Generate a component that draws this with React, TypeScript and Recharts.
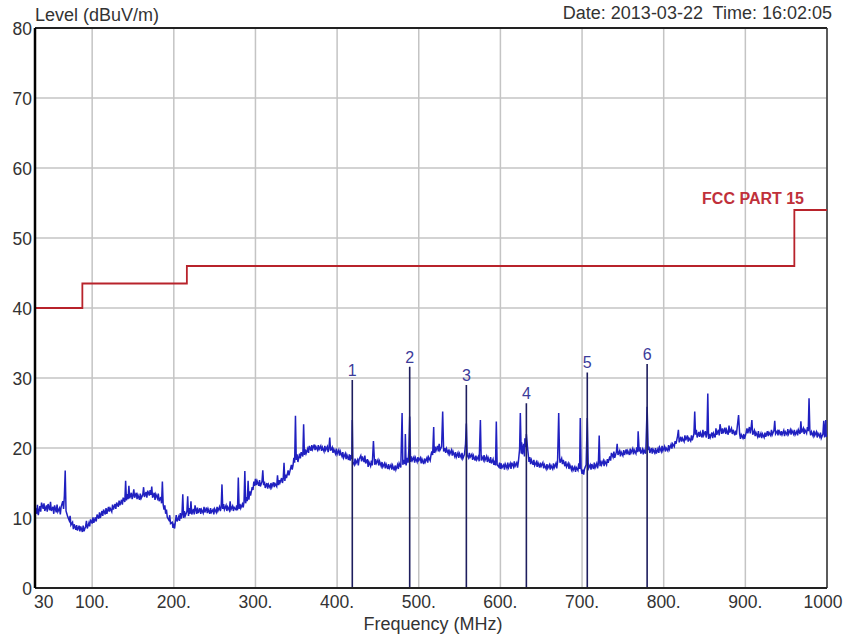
import { ComposedChart, Line, Scatter, XAxis, YAxis, CartesianGrid, ReferenceLine } from "recharts";

const FONT = "'Liberation Sans', Arial, sans-serif";

const X_TICKS = [30, 100, 200, 300, 400, 500, 600, 700, 800, 900, 1000];
const X_TICK_LABELS = ["30", "100.", "200.", "300.", "400.", "500.", "600.", "700.", "800.", "900.", "1000"];
const Y_TICKS = [0, 10, 20, 30, 40, 50, 60, 70, 80];

// FCC part 15 limit (step after each frequency)
const LIMIT_FREQ = [30, 88, 216, 960, 1000];
const LIMIT_LEVEL = [40, 43.5, 46, 54, 54];

// peak markers
const MARKER_NAMES = ["1", "2", "3", "4", "5", "6"];
const MARKER_FREQ = [418.6, 488.9, 558.3, 631.8, 706.4, 779.7];
const MARKER_LEVEL = [29.7, 31.6, 29.0, 26.4, 30.8, 32.0];

// measured trace [MHz, dBuV/m]
const TRACE_30_300: [number, number][] = [
  [30, 10.0], [31, 11.4], [32, 10.6], [33, 11.9], [34, 10.4], [36, 11.7], [37, 10.9], [38, 12.2],
  [40, 11.3], [41, 12.1], [42, 11.0], [44, 11.8], [45, 10.9], [46, 12.0], [48, 11.1], [49, 12.3],
  [50, 11.0], [52, 11.6], [53, 10.6], [54, 11.8], [56, 10.8], [57, 11.9], [58, 10.9], [60, 11.4],
  [61, 10.5], [62, 11.6], [64, 12.4], [65, 11.3], [66, 13.2], [67, 16.8], [68, 11.0], [69, 10.6],
  [70, 10.2], [72, 9.6], [73, 10.3], [74, 9.0], [76, 9.4], [77, 8.4], [78, 9.1], [80, 8.3],
  [81, 9.0], [82, 8.2], [84, 8.9], [85, 8.1], [86, 8.8], [88, 8.0], [89, 8.9], [90, 8.1],
  [92, 8.8], [93, 9.6], [94, 8.5], [96, 9.3], [97, 8.8], [98, 9.8], [100, 9.2], [101, 10.1],
  [102, 9.3], [104, 10.1], [105, 9.5], [106, 10.5], [108, 9.9], [109, 10.8], [110, 10.0], [112, 11.0],
  [113, 10.3], [114, 11.2], [116, 10.5], [117, 11.4], [118, 10.6], [120, 11.6], [121, 10.9], [122, 11.4],
  [124, 10.9], [125, 11.9], [126, 11.2], [128, 12.0], [129, 11.3], [130, 12.2], [132, 11.6], [133, 12.5],
  [134, 11.8], [136, 12.6], [137, 11.9], [138, 12.9], [140, 12.3], [141, 15.3], [142, 12.5], [143, 13.4],
  [144, 12.7], [145, 14.6], [146, 12.8], [148, 13.6], [149, 12.7], [150, 13.2], [151, 14.1], [152, 12.9],
  [154, 13.6], [155, 12.7], [156, 13.3], [158, 12.6], [159, 13.5], [160, 12.8], [162, 13.3], [163, 14.4],
  [164, 13.0], [166, 13.7], [167, 12.9], [168, 13.9], [170, 13.2], [171, 14.0], [172, 13.3], [173, 14.5],
  [174, 12.9], [176, 13.6], [177, 12.6], [178, 13.4], [180, 12.8], [181, 13.5], [182, 12.4], [184, 13.0],
  [185, 12.1], [186, 15.2], [187, 11.9], [188, 11.2], [189, 11.8], [190, 10.6], [191, 11.2], [192, 10.1],
  [194, 9.7], [195, 10.4], [196, 9.2], [198, 9.4], [199, 8.6], [200, 9.0], [201, 8.5], [202, 9.6],
  [203, 10.4], [204, 9.5], [206, 10.2], [207, 9.6], [208, 10.7], [209, 9.9], [210, 10.5], [211, 13.4],
  [212, 10.0], [213, 11.0], [214, 10.3], [216, 10.9], [217, 13.1], [218, 10.3], [219, 11.4], [220, 10.6],
  [221, 12.4], [222, 10.5], [224, 11.3], [225, 10.5], [226, 11.8], [228, 10.6], [229, 11.5], [230, 10.7],
  [232, 11.4], [233, 10.6], [234, 11.2], [236, 10.7], [237, 11.6], [238, 10.8], [240, 11.5], [241, 10.7],
  [242, 11.3], [244, 10.6], [245, 11.4], [246, 10.8], [248, 11.2], [249, 10.5], [250, 11.3], [252, 10.8],
  [253, 11.6], [254, 11.0], [256, 11.6], [257, 11.0], [258, 11.5], [259, 14.8], [260, 11.3], [261, 12.0],
  [262, 11.2], [264, 11.8], [265, 11.0], [266, 11.6], [268, 11.1], [269, 12.4], [270, 11.2], [272, 11.7],
  [273, 11.0], [274, 11.5], [276, 11.2], [277, 11.8], [278, 11.1], [279, 15.8], [280, 11.3], [281, 12.0],
  [282, 11.4], [284, 12.0], [285, 11.5], [286, 12.3], [287, 16.7], [288, 12.1], [289, 13.0], [290, 12.4],
  [291, 15.3], [292, 12.6], [293, 13.8], [294, 13.2], [296, 14.4], [297, 14.0], [298, 15.2], [299, 14.6],
];

const TRACE_300_600: [number, number][] = [
  [300, 15.6], [301, 14.7], [302, 15.3], [304, 14.6], [305, 15.4], [306, 14.5], [308, 15.2], [309, 16.8],
  [310, 14.7], [311, 15.2], [312, 14.3], [314, 15.0], [315, 14.2], [316, 14.8], [318, 14.3], [319, 15.0],
  [320, 14.4], [322, 15.1], [323, 14.4], [324, 14.9], [326, 14.5], [327, 16.1], [328, 14.7], [329, 15.4],
  [330, 15.0], [332, 15.7], [333, 15.0], [334, 15.6], [335, 17.9], [336, 15.3], [337, 16.2], [338, 15.7],
  [340, 16.8], [341, 16.1], [342, 16.6], [344, 17.6], [345, 16.9], [346, 17.5], [347, 18.6], [348, 17.9],
  [349, 24.6], [350, 18.3], [351, 19.1], [352, 18.0], [354, 19.2], [355, 18.5], [356, 19.4], [358, 18.8],
  [359, 23.4], [360, 19.0], [361, 19.8], [362, 19.2], [364, 19.9], [365, 19.3], [366, 20.3], [368, 19.6],
  [369, 20.4], [370, 19.8], [372, 20.5], [373, 19.7], [374, 20.2], [376, 19.7], [377, 20.4], [378, 19.8],
  [380, 20.3], [381, 19.6], [382, 20.1], [384, 19.5], [385, 20.3], [386, 19.7], [388, 20.2], [389, 19.4],
  [390, 20.0], [391, 21.5], [392, 19.6], [394, 20.1], [395, 19.3], [396, 19.8], [398, 19.2], [399, 19.9],
  [400, 19.1], [402, 19.7], [403, 18.9], [404, 19.5], [406, 18.8], [407, 19.4], [408, 18.6], [410, 19.2],
  [411, 18.4], [412, 19.0], [414, 18.3], [415, 19.1], [416, 18.2], [417, 19.0], [418, 18.4], [418.6, 24.0],
  [419.3, 18.0], [421, 17.6], [422, 18.5], [423, 17.8], [425, 18.3], [426, 17.5], [427, 18.4], [429, 18.9],
  [430, 18.1], [431, 18.8], [433, 18.0], [434, 18.9], [435, 17.8], [437, 18.4], [438, 17.3], [439, 18.0],
  [441, 17.4], [442, 18.2], [443, 17.5], [444.5, 21.0], [446, 17.6], [447, 18.4], [448, 17.8], [450, 18.3],
  [451, 17.5], [452, 18.1], [454, 17.4], [455, 18.0], [456, 17.3], [458, 17.8], [459, 17.1], [460, 17.7],
  [462, 17.0], [463, 17.7], [464, 17.1], [466, 17.6], [467, 16.9], [468, 17.5], [470, 16.8], [471, 17.5],
  [472, 16.9], [474, 17.6], [475, 17.0], [476, 17.8], [478, 17.2], [479.6, 25.0], [480.5, 17.6], [482, 18.3],
  [483, 17.7], [483.6, 22.0], [484.5, 17.5], [486, 18.6], [487, 17.9], [487.8, 19.6], [488.9, 24.5], [490, 18.0],
  [491, 18.8], [492, 18.2], [494, 18.7], [495, 17.9], [496, 18.6], [498, 18.0], [499, 18.7], [500, 18.2],
  [502, 18.6], [503, 17.8], [504, 18.4], [506, 17.7], [507, 18.5], [508, 18.0], [510, 18.6], [511, 17.9],
  [512, 18.7], [514, 18.2], [515, 19.0], [516, 19.5], [517, 19.0], [518.3, 23.0], [519, 19.3], [520, 20.2],
  [521, 19.6], [523, 20.3], [524, 19.5], [525, 20.6], [526, 19.7], [528, 20.2], [529.3, 25.2], [530.5, 19.5],
  [532, 20.0], [533, 19.3], [534, 19.9], [536, 19.2], [537, 19.8], [538, 19.1], [540, 19.7], [541, 18.9],
  [542, 19.5], [544, 18.8], [545, 19.4], [546, 18.7], [548, 19.3], [549, 18.6], [550, 19.2], [552, 18.6],
  [553, 19.3], [554, 18.5], [556, 19.1], [557.3, 20.6], [558.3, 23.5], [559.3, 19.0], [561, 18.6], [562, 19.3],
  [563, 18.7], [565, 19.1], [566, 18.3], [567, 18.9], [569, 18.2], [570, 18.9], [571, 18.3], [573, 18.8],
  [574, 18.1], [575.5, 24.0], [576.5, 18.2], [577, 18.9], [579, 18.3], [580, 19.0], [581, 18.2], [583, 18.8],
  [584, 18.0], [585, 18.6], [587, 17.9], [588, 18.7], [589, 17.8], [591, 18.4], [592, 17.6], [593, 18.2],
  [594, 17.5], [595, 23.8], [596, 17.6], [598, 17.3], [599, 17.9],
];

const TRACE_600_1000: [number, number][] = [
  [600, 17.0], [601, 17.8], [602, 17.2], [604, 17.6], [605, 16.9], [606, 17.7], [608, 17.1], [609, 17.9],
  [610, 17.2], [612, 17.8], [613, 17.0], [614, 17.9], [616, 17.3], [617, 18.1], [618, 17.4], [620, 17.9],
  [621, 17.2], [622, 18.0], [623.5, 19.8], [624.4, 25.0], [625.5, 19.2], [626, 20.8], [627, 19.1], [628.5, 20.6],
  [629.5, 18.8], [630, 21.4], [631, 20.1], [631.8, 22.0], [633, 20.3], [634, 19.2], [635, 18.0], [636, 18.7],
  [637, 17.7], [638, 18.3], [640, 17.6], [641, 18.3], [642, 17.5], [644, 18.0], [645, 17.3], [646, 17.9],
  [648, 17.2], [649, 17.9], [650, 17.4], [652, 17.9], [653, 17.1], [654, 17.6], [656, 17.0], [657, 17.7],
  [658, 17.1], [660, 17.6], [661, 16.9], [662, 17.5], [664, 17.0], [665, 17.8], [666, 17.2], [668, 17.8],
  [669, 17.1], [670, 18.0], [671.4, 25.0], [672.5, 18.6], [673, 17.9], [675, 18.5], [676, 17.7], [677, 18.3],
  [679, 17.4], [680, 18.1], [681, 17.3], [683, 17.8], [684, 17.0], [685, 17.6], [687, 16.9], [688, 17.5],
  [689, 16.8], [691, 17.3], [692, 16.6], [693, 17.2], [695, 16.8], [696, 17.8], [697, 17.0], [697.8, 24.3],
  [698.8, 17.1], [700, 16.3], [701, 16.9], [702, 16.2], [703, 17.0], [705, 17.6], [706.4, 24.3], [707.5, 17.9],
  [708, 17.1], [710, 17.6], [711, 16.9], [712, 17.7], [714, 17.0], [715, 17.9], [716, 17.2], [718, 17.8],
  [719, 17.1], [720, 17.8], [721, 21.8], [722, 17.4], [723, 18.2], [724, 17.6], [726, 18.2], [727, 17.4],
  [728, 18.1], [730, 17.6], [731, 18.4], [732, 17.9], [734, 18.8], [735, 18.2], [736, 19.3], [738, 18.7],
  [739, 19.5], [740, 18.6], [742, 19.4], [743, 20.6], [744, 19.0], [746, 19.6], [747, 18.8], [748, 19.4],
  [750, 18.9], [751, 19.7], [752, 19.0], [754, 19.8], [755, 19.1], [756, 19.6], [758, 19.0], [759, 19.9],
  [760, 19.3], [762, 19.9], [763, 19.1], [764, 19.7], [766, 19.2], [767, 20.1], [768, 19.4], [768.7, 22.4],
  [770, 19.5], [771, 20.1], [772, 19.2], [774, 19.8], [775, 19.1], [776, 19.7], [778, 19.2], [779.7, 25.9],
  [781, 19.7], [782, 20.2], [783, 19.3], [785, 20.0], [786, 19.2], [787, 19.8], [789, 19.3], [790, 20.0],
  [791, 19.2], [793, 19.9], [794, 19.3], [795, 20.1], [797, 19.5], [798, 20.3], [799, 19.6], [801, 20.2],
  [802, 19.5], [803, 20.0], [805, 19.6], [806, 20.4], [807, 19.8], [809, 20.5], [810, 19.9], [811, 20.6],
  [813, 20.2], [814, 21.0], [815, 20.6], [817, 21.7], [818, 22.6], [819, 20.8], [821, 21.6], [822, 20.9],
  [823, 21.4], [825, 20.9], [826, 21.8], [827, 21.1], [829, 21.8], [830, 20.9], [831, 21.4], [833, 21.0],
  [834, 21.8], [835, 21.1], [837, 22.0], [838, 25.2], [839, 21.9], [840, 22.6], [841, 21.5], [843, 22.3],
  [844, 21.6], [845, 22.2], [847, 21.5], [848, 22.6], [849, 21.8], [851, 22.4], [852, 21.5], [853, 22.0],
  [854, 27.8], [855, 21.3], [856, 22.0], [857, 21.5], [859, 22.2], [860, 21.4], [861, 22.1], [863, 21.5],
  [864, 22.8], [865, 21.9], [867, 22.6], [868, 21.8], [869, 23.4], [871, 22.0], [872, 22.8], [873, 22.1],
  [875, 22.9], [876, 22.0], [877, 22.6], [879, 21.9], [880, 23.2], [881, 22.2], [883, 22.8], [884, 22.0],
  [885, 22.6], [887, 21.8], [888, 22.5], [889, 21.9], [891.7, 24.7], [893, 22.0], [894, 21.3], [895, 21.9],
  [897, 21.4], [898, 22.0], [899, 21.3], [901, 22.2], [902, 22.8], [903, 22.1], [905, 23.0], [906, 22.1],
  [907, 22.8], [908, 24.0], [909, 21.9], [911, 22.5], [912, 21.7], [913, 22.2], [915, 21.6], [916, 22.4],
  [917, 21.5], [919, 22.1], [920, 21.4], [921, 22.0], [923, 21.5], [924, 22.2], [925, 21.6], [927, 22.4],
  [928, 21.7], [929, 22.2], [931, 21.8], [932, 22.6], [933, 21.9], [935, 22.5], [936, 23.9], [937, 22.0],
  [939, 22.4], [940, 21.8], [941, 22.6], [943, 21.8], [944, 22.4], [945, 21.9], [947, 22.5], [948, 21.7],
  [949, 22.3], [951, 21.9], [952, 22.7], [953, 22.0], [955, 22.6], [956, 21.9], [957, 22.5], [959, 22.0],
  [960, 22.6], [961, 21.9], [963, 22.4], [964, 21.8], [965, 22.6], [967, 22.0], [968, 23.8], [969, 22.2],
  [971, 22.8], [972, 22.0], [973, 22.6], [975, 22.1], [976, 23.0], [977, 22.4], [978, 27.1], [979, 22.5],
  [980, 21.8], [981, 22.3], [983, 21.7], [984, 22.5], [985, 21.8], [987, 22.3], [988, 21.5], [989, 22.1],
  [991, 21.6], [992, 22.2], [993, 21.4], [995, 22.0], [996, 23.9], [997, 21.5], [998.5, 24.0], [999, 21.6],
  [1000, 22.0],
];

const traceData = [...TRACE_30_300, ...TRACE_300_600, ...TRACE_600_1000].map(([f, v]) => ({ f, v }));
const limitData = LIMIT_FREQ.map((f, i) => ({ f, v: LIMIT_LEVEL[i] }));
const markerLineData = MARKER_FREQ.flatMap((f, i) => [
  { f, v: 0 },
  { f, v: MARKER_LEVEL[i] },
  { f, v: null },
]);
const markerLabelData = MARKER_FREQ.map((f, i) => ({ f, v: MARKER_LEVEL[i], name: MARKER_NAMES[i] }));

function FreqTick({ x, y, payload }: any) {
  const i = X_TICKS.indexOf(payload.value);
  const first = payload.value === 30;
  const last = payload.value === 1000;
  return (
    <text
      x={x + (first ? -1 : last ? -4 : 0)}
      y={y + 20}
      textAnchor={first ? "start" : "middle"}
      fontSize={17.5}
      fontFamily={FONT}
      fill="#333"
    >
      {X_TICK_LABELS[i]}
    </text>
  );
}

function LevelTick({ x, y, payload }: any) {
  return (
    <text x={x - 3} y={y + 6.5} textAnchor="end" fontSize={17.5} fontFamily={FONT} fill="#333">
      {payload.value}
    </text>
  );
}

function MarkerLabel({ cx, cy, payload }: any) {
  return (
    <text x={cx} y={cy - 4} textAnchor="middle" fontSize={16} fontFamily={FONT} fill="#3b3b9a">
      {payload.name}
    </text>
  );
}

export default function App() {
  return (
    <div style={{ position: "relative", width: 847, height: 639, background: "#fff" }}>
      <style>{`body{margin:0}`}</style>
      <ComposedChart width={847} height={639} margin={{ top: 28, right: 20, bottom: 0, left: 0 }}>
        <CartesianGrid stroke="#c4c4c4" strokeWidth={1.5} />
        <XAxis
          dataKey="f"
          type="number"
          domain={[30, 1000]}
          ticks={X_TICKS}
          interval={0}
          allowDataOverflow
          height={51}
          tickSize={0}
          tickMargin={0}
          tickLine={false}
          axisLine={{ stroke: "#222", strokeWidth: 2 }}
          tick={<FreqTick />}
        />
        <YAxis
          dataKey="v"
          type="number"
          domain={[0, 80]}
          ticks={Y_TICKS}
          interval={0}
          allowDataOverflow
          width={35}
          tickSize={0}
          tickMargin={0}
          tickLine={false}
          axisLine={{ stroke: "#000", strokeWidth: 2.5 }}
          tick={<LevelTick />}
        />
        <ReferenceLine y={80} stroke="#222" strokeWidth={2} />
        <ReferenceLine x={1000} stroke="#333" strokeWidth={1.5} />
        <Line
          data={limitData}
          dataKey="v"
          type="stepAfter"
          stroke="#b8232b"
          strokeWidth={1.8}
          dot={false}
          isAnimationActive={false}
        />
        <Line
          data={traceData}
          dataKey="v"
          type="linear"
          stroke="#2020c0"
          strokeWidth={1.5}
          dot={false}
          isAnimationActive={false}
        />
        <Line
          data={markerLineData}
          dataKey="v"
          type="linear"
          stroke="#1e1e5e"
          strokeWidth={1.6}
          dot={false}
          connectNulls={false}
          isAnimationActive={false}
        />
        <Scatter data={markerLabelData} dataKey="v" shape={<MarkerLabel />} isAnimationActive={false} />
      </ComposedChart>
      <svg
        width={847}
        height={639}
        style={{ position: "absolute", left: 0, top: 0, pointerEvents: "none" }}
        fontFamily={FONT}
      >
        <text x={35} y={21} fontSize={18} fill="#333">
          Level (dBuV/m)
        </text>
        <text x={832} y={19} fontSize={18} fill="#333" textAnchor="end">
          {"Date: 2013-03-22\u00a0 Time: 16:02:05"}
        </text>
        <text x={804} y={203.5} fontSize={16} fontWeight="bold" fill="#c0303a" textAnchor="end">
          FCC PART 15
        </text>
        <text x={433} y={630} fontSize={18} fill="#333" textAnchor="middle">
          Frequency (MHz)
        </text>
      </svg>
    </div>
  );
}
